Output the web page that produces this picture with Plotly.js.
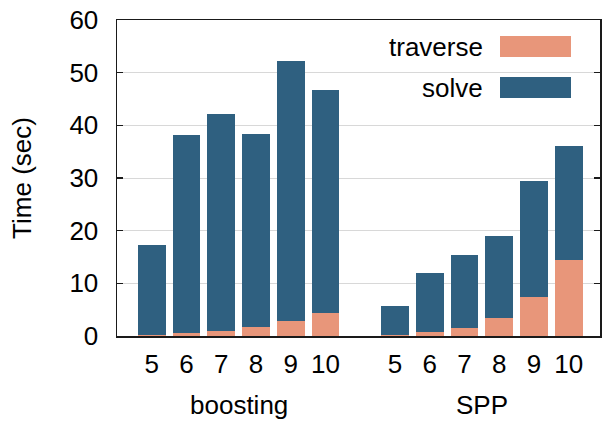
<!DOCTYPE html>
<html>
<head>
<meta charset="utf-8">
<script src="https://cdn.plot.ly/plotly-3.0.1.min.js"></script>
<style>html,body{margin:0;padding:0;background:#fff;}#chart{width:603px;height:421px;}</style>
</head>
<body>
<div id="chart"></div>
<script>
// ---- data ----
const groups = ['boosting', 'SPP'];
const sizes = ['5', '6', '7', '8', '9', '10'];
const traverseBoosting = [0.1, 0.5, 1.0, 1.7, 2.9, 4.4];
const solveBoosting    = [17.2, 37.7, 41.2, 36.7, 49.4, 42.4];
const traverseSPP      = [0.1, 0.8, 1.5, 3.4, 7.4, 14.5];
const solveSPP         = [5.6, 11.2, 13.9, 15.6, 22.1, 21.6];
const seriesNames = ['traverse', 'solve'];
const seriesColors = ['#e8967a', '#2f6080'];
const yTicks = [0, 10, 20, 30, 40, 50, 60];

// ---- layout helpers ----
const W = 603, H = 421, M = {l: 117, r: 3, t: 20, b: 85};
const pw = W - M.l - M.r, ph = H - M.t - M.b;
const px = x => (x - M.l) / pw;
const py = y => (M.t + ph - y) / ph;

const slot = (g, i) => g * (sizes.length + 1) + i + 1;
const xs = [];
const tickText = [];
groups.forEach((g, gi) => sizes.forEach((s, i) => { xs.push(slot(gi, i)); tickText.push(s); }));

const traverse = traverseBoosting.concat(traverseSPP);
const solve = solveBoosting.concat(solveSPP);

const font = {family: 'Liberation Sans, Arial, sans-serif', size: 26, color: '#000'};

const traces = [
  {type: 'bar', name: seriesNames[0], x: xs, y: traverse, width: 0.8,
   marker: {color: seriesColors[0], line: {width: 0}}, showlegend: false, hoverinfo: 'skip'},
  {type: 'bar', name: seriesNames[1], x: xs, y: solve, width: 0.8,
   marker: {color: seriesColors[1], line: {width: 0}}, showlegend: false, hoverinfo: 'skip'}
];

const annotations = [];
groups.forEach((g, gi) => {
  annotations.push({text: g, xref: 'x', yref: 'paper',
    x: (slot(gi, 0) + slot(gi, sizes.length - 1)) / 2, y: py(405),
    xanchor: 'center', yanchor: 'middle', showarrow: false, font: font});
});

const shapes = [
  // legend background (opaque, hides gridlines)
  {type: 'rect', xref: 'paper', yref: 'paper', x0: px(353), x1: px(587), y0: py(30), y1: py(112),
   fillcolor: '#fff', line: {width: 0}, layer: 'below'}
];
const legendRows = [46.5, 87.5];
seriesNames.forEach((n, i) => {
  const cy = legendRows[i];
  shapes.push({type: 'rect', xref: 'paper', yref: 'paper', x0: px(500), x1: px(571),
    y0: py(cy + 10.5), y1: py(cy - 10.5), fillcolor: seriesColors[i], line: {width: 0}, layer: 'above'});
  annotations.push({text: n, xref: 'paper', yref: 'paper', x: px(485), y: py(cy + 0.5),
    xanchor: 'right', yanchor: 'middle', showarrow: false, font: font});
});

const layout = {
  width: W, height: H,
  margin: M,
  paper_bgcolor: '#fff', plot_bgcolor: '#fff',
  barmode: 'stack',
  bargap: 0,
  font: font,
  showlegend: false,
  xaxis: {
    range: [0, 13.9], tickmode: 'array', tickvals: xs, ticktext: tickText,
    ticks: '', showgrid: false, zeroline: false,
    showline: true, mirror: true, linecolor: '#1a1a1a', linewidth: 1.5,
    tickfont: font, ticklabelstandoff: 4
  },
  yaxis: {
    range: [0, 60], tickmode: 'array', tickvals: yTicks,
    ticks: 'inside', ticklen: 6, tickwidth: 1.5, tickcolor: '#1a1a1a',
    showline: true, mirror: 'ticks', linecolor: '#1a1a1a', linewidth: 1.5,
    showgrid: true, gridcolor: '#d8d8d8', gridwidth: 1, zeroline: false,
    tickfont: font, ticklabelstandoff: 12,
    title: {text: 'Time (sec)', font: font, standoff: 30}
  },
  shapes: shapes,
  annotations: annotations
};

Plotly.newPlot('chart', traces, layout, {staticPlot: true, displayModeBar: false});
</script>
</body>
</html>
